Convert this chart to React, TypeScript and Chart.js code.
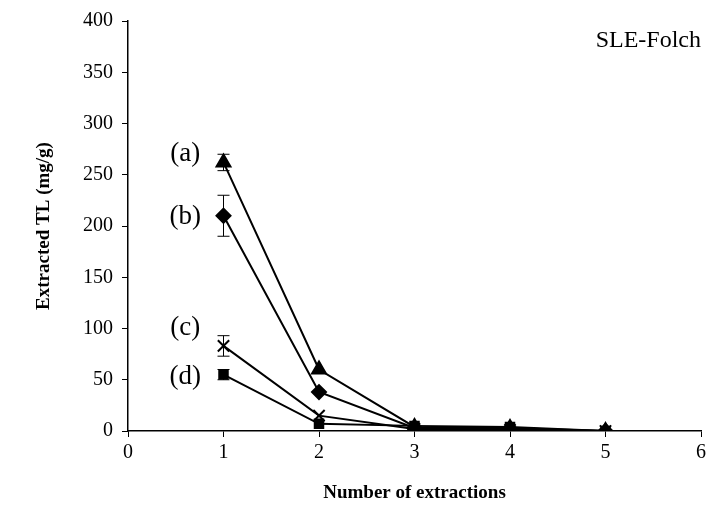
import React, { useEffect, useRef } from "react";
import { Chart, registerables } from "chart.js";

Chart.register(...registerables);

const extractions = [1, 2, 3, 4, 5];
const seriesA = [262, 60, 4, 3, 0];
const seriesB = [210, 38, 3, 2, 0];
const seriesC = [83, 15, 2, 1, 0];
const seriesD = [55, 7, 5, 4, 0];
const errA = [8, 0, 0, 0, 0];
const errB = [20, 0, 0, 0, 0];
const errC = [10, 0, 0, 0, 0];
const errD = [5, 0, 0, 0, 0];
const seriesLabels = ["(a)", "(b)", "(c)", "(d)"];
const labelYs = [270, 209, 101, 53];
const labelX = 0.6;
const yTicks = [0, 50, 100, 150, 200, 250, 300, 350, 400];

const SERIF = "'Liberation Serif', 'Times New Roman', serif";

const errorBarPlugin = {
  id: "errorBars",
  afterDatasetsDraw(chart: any) {
    const { ctx, scales } = chart;
    const xs = scales.x;
    const ys = scales.y;
    const errs = [errA, errB, errC, errD];
    const vals = [seriesA, seriesB, seriesC, seriesD];
    ctx.save();
    ctx.strokeStyle = "#000";
    ctx.lineWidth = 1;
    errs.forEach((e, si) => {
      e.forEach((err, i) => {
        if (!err) return;
        const px = xs.getPixelForValue(extractions[i]);
        const top = ys.getPixelForValue(vals[si][i] + err);
        const bot = ys.getPixelForValue(vals[si][i] - err);
        ctx.beginPath();
        ctx.moveTo(px, top);
        ctx.lineTo(px, bot);
        ctx.moveTo(px - 6, top);
        ctx.lineTo(px + 6, top);
        ctx.moveTo(px - 6, bot);
        ctx.lineTo(px + 6, bot);
        ctx.stroke();
      });
    });
    ctx.fillStyle = "#000";
    ctx.font = `27px ${SERIF}`;
    ctx.textAlign = "center";
    ctx.textBaseline = "middle";
    seriesLabels.forEach((l, i) => {
      ctx.fillText(l, xs.getPixelForValue(labelX), ys.getPixelForValue(labelYs[i]));
    });
    ctx.font = `24px ${SERIF}`;
    ctx.textAlign = "right";
    ctx.fillText("SLE-Folch", chart.chartArea.right, chart.chartArea.top + 20);
    ctx.font = `bold 19px ${SERIF}`;
    ctx.textAlign = "center";
    ctx.fillText("Number of extractions", (chart.chartArea.left + chart.chartArea.right) / 2, 493);
    ctx.save();
    ctx.translate(44, (chart.chartArea.top + chart.chartArea.bottom) / 2);
    ctx.rotate(-Math.PI / 2);
    ctx.fillText("Extracted TL (mg/g)", 0, 0);
    ctx.restore();
    ctx.restore();
  },
};

export default function App() {
  const ref = useRef<HTMLCanvasElement>(null);
  useEffect(() => {
    if (!ref.current) return;
    const mk = (data: number[]) => extractions.map((x, i) => ({ x, y: data[i] }));
    const base = {
      borderColor: "#000",
      backgroundColor: "#000",
      pointBackgroundColor: "#000",
      pointBorderColor: "#000",
      borderWidth: 2,
      tension: 0,
    };
    const chart = new Chart(ref.current, {
      type: "line",
      data: {
        datasets: [
          { ...base, label: "(a)", data: mk(seriesA), pointStyle: "triangle", pointRadius: 8 },
          { ...base, label: "(b)", data: mk(seriesB), pointStyle: "rectRot", pointRadius: 7 },
          { ...base, label: "(c)", data: mk(seriesC), pointStyle: "crossRot", pointRadius: 8, pointBorderWidth: 2 },
          { ...base, label: "(d)", data: mk(seriesD), pointStyle: "rect", pointRadius: 6 },
        ],
      },
      options: {
        animation: false,
        responsive: true,
        maintainAspectRatio: false,
        layout: { padding: { left: 0, right: 26, top: 17, bottom: 0 } },
        plugins: { legend: { display: false }, tooltip: { enabled: false } },
        scales: {
          x: {
            type: "linear",
            min: 0,
            max: 6,
            ticks: { stepSize: 1, color: "#000", font: { family: SERIF, size: 20 }, padding: 4 },
            grid: { drawOnChartArea: false, color: "#000", tickLength: 6, lineWidth: 1 },
            border: { color: "#000", width: 1.5 },
            afterFit: (s: any) => { s.height = 77; },
          },
          y: {
            min: 0,
            max: 400,
            afterBuildTicks: (s: any) => { s.ticks = yTicks.map((v) => ({ value: v })); },
            ticks: { color: "#000", font: { family: SERIF, size: 20 }, padding: 9 },
            grid: { drawOnChartArea: false, color: "#000", tickLength: 6, lineWidth: 1 },
            border: { color: "#000", width: 1.5 },
            afterFit: (s: any) => { s.width = 128; },
          },
        },
      },
      plugins: [errorBarPlugin],
    });
    return () => chart.destroy();
  }, []);
  return (
    <div style={{ position: "fixed", left: 0, top: 0, width: 727, height: 508, background: "#fff" }}>
      <canvas ref={ref} />
    </div>
  );
}
